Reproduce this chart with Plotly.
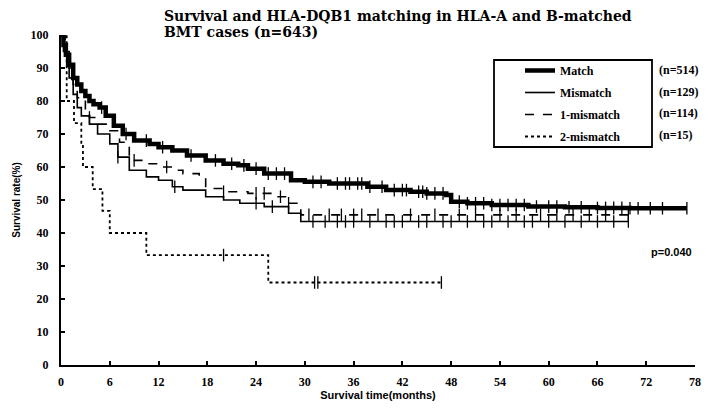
import numpy as np
import plotly.graph_objects as go

# ---- data ----
match_t = [0, 0.3, 0.6, 1, 1.5, 2, 2.5, 3, 3.5, 4, 4.75, 5.5, 6.5, 7.6, 9, 10.9, 12, 13.7, 15.5, 17.8,
           20, 21.8, 23, 25, 28.3, 30, 33, 37.7, 40, 43, 45, 47.4, 48, 50, 53, 57.5, 62, 66, 70, 77]
match_s = [100, 97, 94, 91, 87, 85, 83, 81.5, 80, 79, 78, 75.5, 72.5, 70, 68, 67, 66, 65, 63.5, 62,
           61, 60.5, 59.5, 58, 56, 55.5, 55, 54, 53, 52.5, 52, 51.5, 49.5, 49, 48.5, 48, 47.8, 47.6, 47.5, 47.5]
match_cens = [5, 8, 10.5, 12.5, 16, 19, 21, 22.5, 24, 25.5, 26.5, 27.5, 31, 32, 34, 35, 35.5, 36.5, 37, 38,
              39.5, 41, 42, 42.5, 44, 44.5, 45, 46, 47, 49, 50, 51, 52, 53, 54, 55, 56, 57, 58.5, 60, 61,
              62.5, 64, 66, 67, 68, 69, 70, 71, 72.5, 74, 77]

mis_t = [0, 0.3, 0.7, 1, 1.5, 2, 2.5, 3.5, 4.5, 6, 7, 8.4, 10.5, 12, 13.7, 15, 17.8, 20, 22, 25, 28,
         29.5, 35, 48, 60, 69.8]
mis_s = [100, 95, 91, 87, 82, 78, 75.5, 73, 70, 67, 63, 59, 57, 56, 54, 53, 51, 50, 49, 48, 46,
         43.5, 43.5, 43.5, 43.5, 43.5]
mis_cens = [7, 14, 24, 26, 31, 32.5, 34, 35, 36, 38, 40, 41, 42, 44, 45, 47, 48, 50, 52, 53,
            55, 57, 58, 60, 62, 64, 66, 68, 69.8]

one_t = [0, 0.5, 1, 1.5, 2, 3, 3.5, 4.5, 6, 7.2, 8.4, 10.5, 12, 13.7, 15, 17, 17.8, 20, 23, 26, 28,
         29.5, 40, 55, 69.8]
one_s = [100, 95, 90, 85, 81, 77, 75, 73, 71, 67.5, 62, 61, 60, 59, 58, 57, 53.5, 52.5, 52, 51, 49,
         45.5, 45.5, 45.5, 45.5]
one_cens = [3.5, 9, 13, 20, 24, 25, 27, 28, 30.5, 33, 34.5, 36, 37, 39, 43, 46, 49, 51, 54, 56,
            59, 61, 63, 65, 67, 69.8]

two_t = [0, 0.7, 1.6, 2.5, 2.7, 3.9, 5.1, 6, 10.5, 25.5, 46.8]
two_s = [100, 80, 73.3, 66.7, 60, 53.3, 46.7, 40, 33.3, 25, 25]
two_cens = [20, 31.2, 31.6, 46.8]

names = ["Match", "Mismatch", "1-mismatch", "2-mismatch"]
counts = ["(n=514)", "(n=129)", "(n=114)", "(n=15)"]

x_ticks = list(range(0, 79, 6))
y_ticks = list(range(0, 101, 10))

series = [
    (match_t, match_s, match_cens, dict(width=4.5, dash="solid")),
    (mis_t, mis_s, mis_cens, dict(width=1.6, dash="solid")),
    (one_t, one_s, one_cens, dict(width=1.6, dash="dash")),
    (two_t, two_s, two_cens, dict(width=1.8, dash="dot")),
]

fig = go.Figure()
for i, ((t, s, c, ls), name) in enumerate(zip(series, names)):
    fig.add_trace(go.Scatter(x=t, y=s, mode="lines", line_shape="hv", name=name, legendgroup=f"g{i}",
                             line=dict(color="black", **ls)))
for (t, s, c, ls), name in zip(series, names):
    t_arr = np.array(t)
    s_arr = np.array(s)
    idx = np.searchsorted(t_arr, np.array(c), side="right") - 1
    cy = s_arr[idx]
    fig.add_trace(go.Scatter(x=c, y=cy, mode="markers", showlegend=False, hoverinfo="skip",
                             marker=dict(symbol="line-ns", size=9, line=dict(color="black", width=1.3))))

OFF = 8  # page body margin
W, H = 711 - 2 * OFF, 416 - 2 * OFF
L, T = 61 - OFF, 35 - OFF
R = W - (695 - OFF)
B = H - (365 - OFF)
pw, ph = W - L - R, H - T - B

def px(xp):
    return (xp - OFF - L) / pw

def py(yp):
    return (H - B - (yp - OFF)) / ph

tick_font = dict(family="Liberation Serif", size=12, color="black", weight="bold")

fig.update_layout(
    width=W, height=H,
    margin=dict(l=L, r=R, t=T, b=B, autoexpand=False),
    paper_bgcolor="white", plot_bgcolor="white",
    showlegend=True,
    legend=dict(x=px(520), y=py(56), xanchor="left", yanchor="top", traceorder="grouped",
                bgcolor="rgba(0,0,0,0)", borderwidth=0,
                font=dict(family="Liberation Serif", size=12, color="black", weight="bold"),
                tracegroupgap=3),
    xaxis=dict(range=[0, 78], tickvals=x_ticks, ticktext=[str(v) for v in x_ticks],
               showgrid=False, zeroline=False, showline=True, linecolor="black", linewidth=2,
               ticks="inside", ticklen=4, tickwidth=1.5, tickcolor="black", automargin=False,
               tickfont=tick_font, ticklabelstandoff=5,
               title=dict(text="Survival time(months)", standoff=3,
                          font=dict(family="Liberation Sans", size=11, color="black", weight="bold"))),
    yaxis=dict(range=[0, 100], tickvals=y_ticks, ticktext=[str(v) for v in y_ticks],
               showgrid=False, zeroline=False, showline=True, linecolor="black", linewidth=2,
               ticks="inside", ticklen=4, tickwidth=1.5, tickcolor="black", automargin=False,
               tickfont=tick_font, ticklabelstandoff=8,
               title=dict(text="Survival rate(%)", standoff=8,
                          font=dict(family="Liberation Sans", size=10, color="black", weight="bold"))),
    shapes=[dict(type="rect", xref="paper", yref="paper", x0=px(494), x1=px(652), y0=py(147), y1=py(60),
                 line=dict(color="black", width=1.8))],
)

for i, cnt in enumerate(counts):
    fig.add_annotation(x=px(657), y=py(70 + 21.7 * i), xref="paper", yref="paper", text=cnt,
                       showarrow=False, xanchor="left", yanchor="middle",
                       font=dict(family="Liberation Serif", size=12, color="black", weight="bold"))

fig.add_annotation(x=px(694), y=py(252), xref="paper", yref="paper", text="p=0.040", showarrow=False,
                   xanchor="right", yanchor="middle",
                   font=dict(family="Liberation Sans", size=11, color="black", weight="bold"))

title_lines = ["Survival and HLA-DQB1 matching in HLA-A and B-matched", "BMT cases (n=643)"]
for i, line in enumerate(title_lines):
    fig.add_annotation(x=px(162), y=py(16 + 16 * i), xref="paper", yref="paper", text=line,
                       showarrow=False, xanchor="left", yanchor="middle", align="left",
                       font=dict(family="DejaVu Serif", size=14, color="black", weight="bold"))

fig.write_html("out.html")
